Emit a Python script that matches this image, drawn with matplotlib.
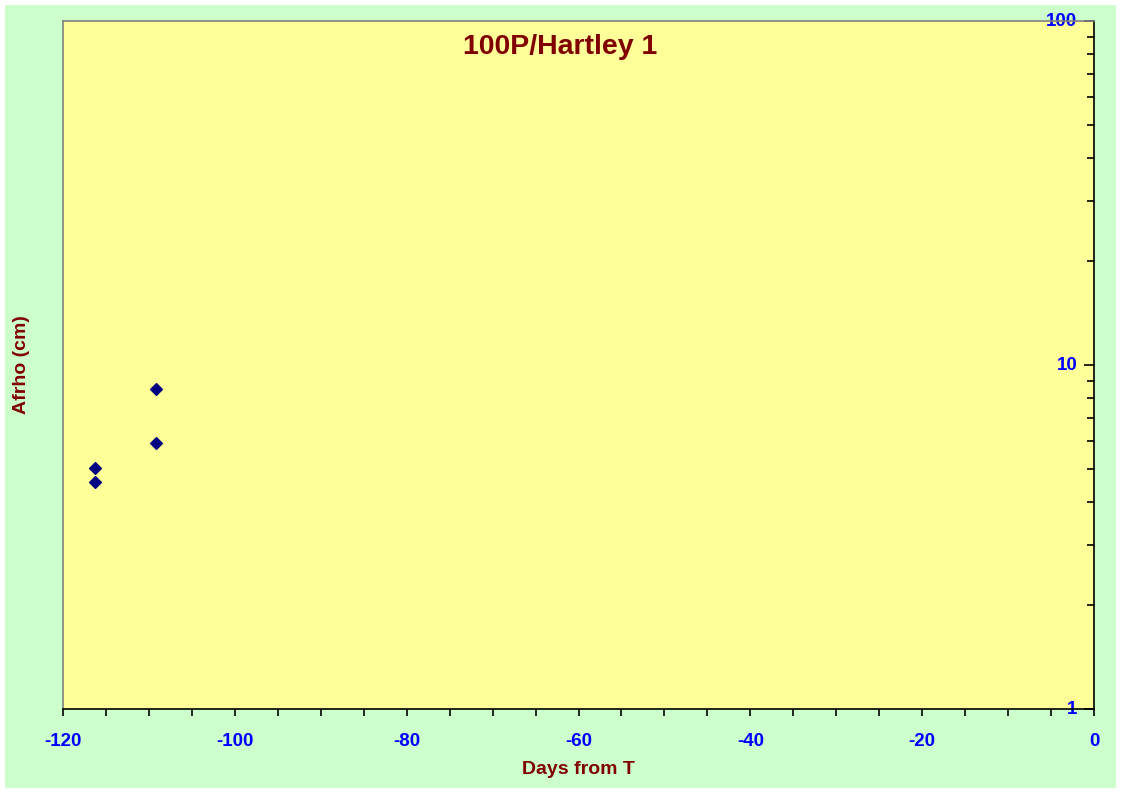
import matplotlib
matplotlib.use("Agg")
import matplotlib.pyplot as plt
from matplotlib.patches import Rectangle
from matplotlib.ticker import FixedLocator, LogLocator, NullFormatter, FixedFormatter

plt.rcParams["font.family"] = ["Liberation Sans", "DejaVu Sans"]
plt.rcParams["font.weight"] = "bold"
plt.rcParams["axes.unicode_minus"] = False

# Data
days = [-116.3, -116.3, -109.2, -109.2]
afrho = [5.02, 4.57, 8.52, 5.93]

title = "100P/Hartley 1"
xlabel = "Days from T"
ylabel = "Afrho (cm)"
xticks = [-120, -100, -80, -60, -40, -20, 0]
yticks = [1, 10, 100]
ytick_labels = ["1", "10", "100"]

W, H = 1121, 793
fig = plt.figure(figsize=(W / 100, H / 100), dpi=100, facecolor="white")
fig.patches.append(Rectangle((5 / W, 5 / H), (1116 - 5) / W, (788 - 5) / H,
                             transform=fig.transFigure, facecolor="#CCFFCC",
                             edgecolor="none", zorder=-10))

L, R, T, B = 63, 1094, 21, 709
ax = fig.add_axes([L / W, 1 - B / H, (R - L) / W, (B - T) / H])
ax.set_zorder(1)
ax.set_facecolor("#FFFF99")

ax.scatter(days, afrho, marker="D", s=36, color="#000080", edgecolors="#000080", zorder=3)

ax.set_xlim(-120, 0)
ax.set_yscale("log")
ax.set_ylim(1, 100)

ax.spines["top"].set_color("#808080")
ax.spines["left"].set_color("#808080")
ax.spines["bottom"].set_color("black")
ax.spines["right"].set_color("black")
for s in ax.spines.values():
    s.set_linewidth(1.2)

# x axis
ax.xaxis.set_major_locator(FixedLocator(xticks))
ax.xaxis.set_minor_locator(FixedLocator(list(range(-120, 1, 5))))
ax.tick_params(axis="x", which="both", direction="out", length=5, width=1.2,
               color="black", pad=12, labelsize=13.5, labelcolor="#0000FF")

# y axis on right, labels inside
ax.yaxis.tick_right()
ax.yaxis.set_major_locator(FixedLocator(yticks))
ax.yaxis.set_major_formatter(FixedFormatter(ytick_labels))
ax.yaxis.set_minor_locator(LogLocator(base=10, subs=range(2, 10)))
ax.yaxis.set_minor_formatter(NullFormatter())
ax.tick_params(axis="y", which="major", direction="in", length=7, width=1.2,
               color="black", left=False, right=True, labelleft=False,
               labelright=True, pad=-12, labelsize=13.5, labelcolor="#0000FF")
ax.tick_params(axis="y", which="minor", direction="in", length=5, width=1.2,
               color="black", left=False, right=True)
for t in ax.yaxis.get_major_ticks():
    t.label2.set_horizontalalignment("right")
    t.label2.set_verticalalignment("center")

# Labels
fig.text(560 / W, 1 - 47 / H, title, ha="center", va="center", fontsize=20.5,
         fontweight="bold", color="#800000", zorder=5)
fig.text(578 / W, 1 - 770 / H, xlabel, ha="center", va="center", fontsize=14,
         fontweight="bold", color="#800000")
fig.text(22 / W, 1 - 365 / H, ylabel, ha="center", va="center", fontsize=14,
         fontweight="bold", color="#800000", rotation=90)

fig.savefig("out.png", dpi=100, facecolor="white")
